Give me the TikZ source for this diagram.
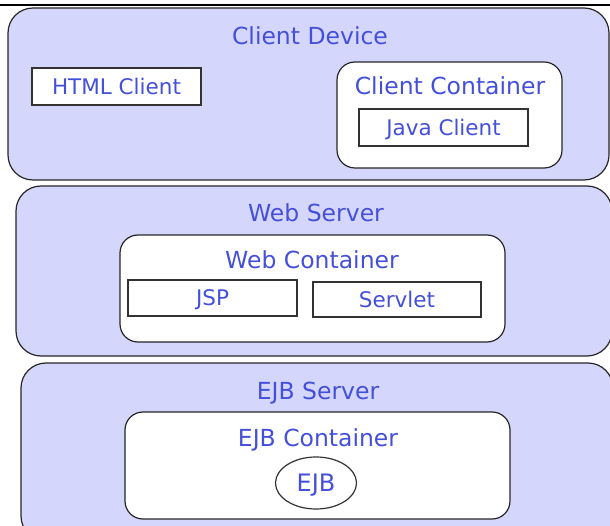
\documentclass[tikz,border=0pt]{standalone}
\usepackage{fontspec}
\setmainfont{DejaVu Sans}
\usetikzlibrary {shapes.geometric}
\usetikzlibrary {positioning}
\definecolor{labelblue}{RGB}{68,80,218}
\definecolor{tierfill}{RGB}{213,214,252}

\begin{document}
\begin{tikzpicture}[x=1pt, y=-1pt,
  tier/.style={rectangle, rounded corners=25pt, draw=black!85, line width=1.2pt, fill=tierfill, inner sep=0pt},
  container/.style={rectangle, rounded corners=18pt, draw=black!85, line width=1.2pt, fill=white, inner sep=0pt},
  part/.style={rectangle, draw=black!80, line width=1.2pt, fill=white, text=labelblue, font=\fontsize{21.5}{24}\selectfont, text height=15.5pt, text depth=0pt, inner sep=0pt},
  title/.style={anchor=base, text=labelblue, font=\fontsize{23.5}{26}\selectfont, inner sep=0pt}]
\useasboundingbox (0,0) rectangle (610,526);
\clip (0,0) rectangle (610,526);

%client device
\node [tier, minimum width=601pt, minimum height=172pt] (dev) at (308.5,94) {};
\node [title] (devlabel) at (310,45) {Client Device};
\node [part, minimum width=169pt, minimum height=37pt] (html) at (116.5,86.5) {HTML Client};
\node [container, minimum width=225pt, minimum height=106pt] (ccont) at (449.5,115) {};
\node [title] (ccontlabel) at (450,95) {Client Container};
\node [part, minimum width=169pt, minimum height=37pt] (java) at (443.5,127.5) {Java Client};

%web server
\node [tier, minimum width=596pt, minimum height=170pt] (websrv) at (314,271) {};
\node [title] (websrvlabel) at (316,222) {Web Server};
\node [container, minimum width=385pt, minimum height=107pt] (wcont) at (312.5,288.5) {};
\node [title] (wcontlabel) at (312,269) {Web Container};
\node [part, minimum width=169pt, minimum height=36pt] (jsp) at (212.5,298) {JSP};
\node [part, minimum width=168pt, minimum height=35pt] (servlet) at (397,299.5) {Servlet};

%ejb server
\node [tier, minimum width=592pt, minimum height=178pt] (ejbsrv) at (317,452) {};
\node [title] (ejbsrvlabel) at (318,399) {EJB Server};
\node [container, minimum width=385pt, minimum height=107pt] (econt) at (317.5,465.5) {};
\node [title] (econtlabel) at (318,446) {EJB Container};
\node [part, ellipse, minimum width=81pt, minimum height=52pt, font=\fontsize{24}{26}\selectfont, text height=17.5pt] (ejb) at (316,483) {EJB};

%top rule
\coordinate (ruleL) at (0,5);
\coordinate (ruleR) at (610,5);
\draw [line width=2pt] (ruleL) -- (ruleR);

\end{tikzpicture}
\end{document}
